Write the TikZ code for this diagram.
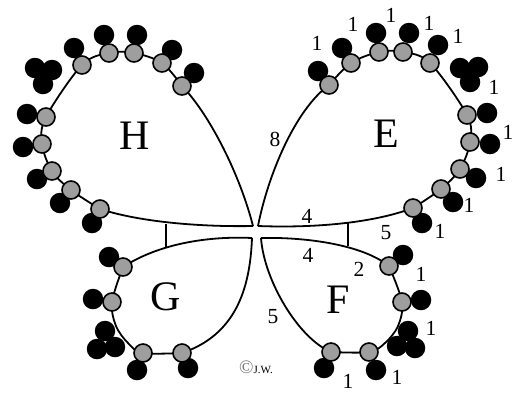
\documentclass[tikz,border=0pt]{standalone}
\usepackage{fontspec}
\setmainfont{Liberation Serif}
\begin{document}
\begin{tikzpicture}[x=1pt,y=-1pt,
  wing/.style={line width=1.8pt, line join=round},
  greyc/.style={circle, draw, line width=1.6pt, fill=black!38, minimum size=18pt, inner sep=0pt},
  blk/.style={circle, fill=black, minimum size=20.5pt, inner sep=0pt},
  num/.style={inner sep=0pt, font=\fontsize{21.5}{21.5}\selectfont},
  big/.style={inner sep=0pt, font=\fontsize{42}{42}\selectfont}]
\useasboundingbox (0,0) rectangle (516,392);
% tips
\coordinate (tH) at (253,226);
\coordinate (tE) at (258,226);
\coordinate (tG) at (252,238);
\coordinate (tF) at (261,238);
% grey positions
\foreach \x/\y [count=\i] in {182/86,162/63,134/53,109/53,82/65,46/117,42/144,52/171,71/190,100/209}
  \coordinate (h\i) at (\x,\y);
\foreach \x/\y [count=\i] in {329/85,351/63,379/52,403/52,430/63,467/115,470/142,460/169,441/189,413/208}
  \coordinate (e\i) at (\x,\y);
\foreach \x/\y [count=\i] in {123/267,112/302,143/353,182/353}
  \coordinate (g\i) at (\x,\y);
\foreach \x/\y [count=\i] in {389/266,402/302,369/352,331/352}
  \coordinate (f\i) at (\x,\y);
\coordinate (gm1) at (116,326);
\coordinate (gm2) at (128,343);
\coordinate (fm1) at (398,326);
\coordinate (fm2) at (385,343);
% bars
\coordinate (bH1) at (166,224);
\coordinate (bH2) at (166,247);
\coordinate (bE1) at (348,223);
\coordinate (bE2) at (348,246);
% wing H
\draw[wing] (tH) .. controls (240,175) and (210,115) .. (h1);
\draw[wing] plot[smooth, tension=0.55] coordinates {(h1) (h2) (h3) (h4) (h5) (h6) (h7) (h8) (h9) (h10)};
\draw[wing] (h10) .. controls (140,222) and (200,227) .. (tH);
% wing E
\draw[wing] (tE) .. controls (268,175) and (295,110) .. (e1);
\draw[wing] plot[smooth, tension=0.55] coordinates {(e1) (e2) (e3) (e4) (e5) (e6) (e7) (e8) (e9) (e10)};
\draw[wing] (e10) .. controls (370,224) and (310,228) .. (tE);
% wing G
\draw[wing] (tG) .. controls (210,236) and (160,243) .. (g1);
\draw[wing] plot[smooth, tension=0.55] coordinates {(g1) (g2) (gm1) (gm2) (g3) (g4)};
\draw[wing] (g4) .. controls (235,335) and (250,290) .. (tG);
% wing F
\draw[wing] (tF) .. controls (300,237) and (360,243) .. (f1);
\draw[wing] plot[smooth, tension=0.55] coordinates {(f1) (f2) (fm1) (fm2) (f3) (f4)};
\draw[wing] (f4) .. controls (298,338) and (264,280) .. (tF);
% bars
\draw[wing] (bH1) -- (bH2);
\draw[wing] (bE1) -- (bE2);
% black circles
\foreach \x/\y [count=\i] in {194/73,172/50,137/35,104/35,74/48,35/68,52/70,43/84,27/114,23/147,37/179,60/203,92/223}
  \node[blk] (hb\i) at (\x,\y) {};
\foreach \x/\y [count=\i] in {318/71,342/48,376/33,409/33,438/45,460/68,478/67,470/82,487/113,490/144,476/178,453/202,422/223}
  \node[blk] (eb\i) at (\x,\y) {};
\foreach \x/\y [count=\i] in {109/257,93/299,105/331,97/349,115/347,137/370,188/368}
  \node[blk] (gb\i) at (\x,\y) {};
\foreach \x/\y [count=\i] in {403/255,421/300,408/331,397/346,415/348,376/370,324/368}
  \node[blk] (fb\i) at (\x,\y) {};
% grey circles
\foreach \n in {h1,h2,h3,h4,h5,h6,h7,h8,h9,h10,e1,e2,e3,e4,e5,e6,e7,e8,e9,e10,g1,g2,g3,g4,f1,f2,f3,f4}
  \node[greyc] (n\n) at (\n) {};
% letters
\node[big] (lH) at (135,136) {H};
\node[big] (lE) at (386,134) {E};
\node[big] (lG) at (166,297) {G};
\node[big] (lF) at (338,300) {F};
% numbers
\foreach \x/\y [count=\i] in {317/43,353/24,391/15,429/23,458/36,494/87,508/132,501/174,469/205,440/231,421/274,431/328,397/377,348/381}
  \node[num] (one\i) at (\x,\y) {1};
\node[num] (n8) at (275,139) {8};
\node[num] (n4a) at (307,216) {4};
\node[num] (n5a) at (386,233) {5};
\node[num] (n4b) at (308,255) {4};
\node[num] (n2) at (359,269) {2};
\node[num] (n5b) at (273,317) {5};
% copyright
\node[inner sep=0pt, anchor=west] (cp) at (239,367) {{\color{black!55}\fontsize{19}{19}\selectfont\textcopyright}{\fontsize{11}{11}\selectfont J.W.}};
\end{tikzpicture}
\end{document}
